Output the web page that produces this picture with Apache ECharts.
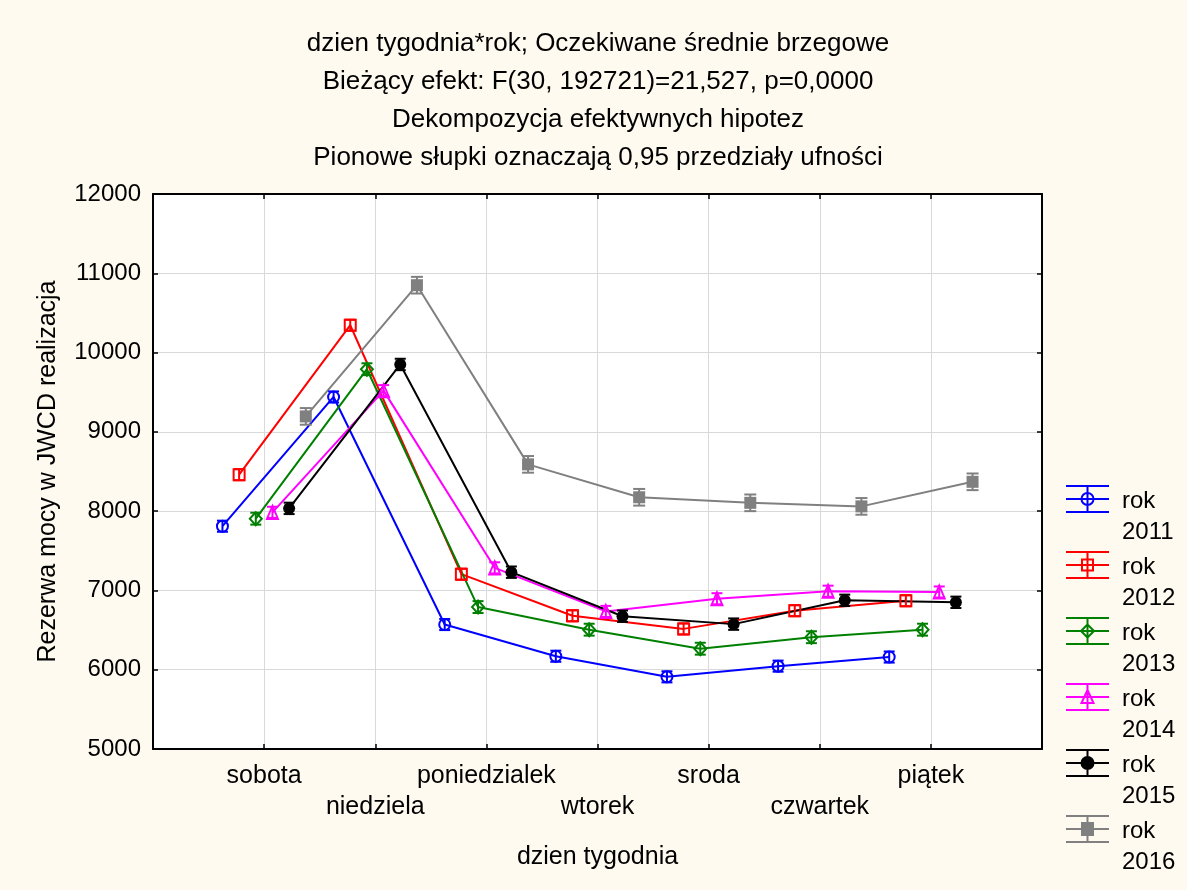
<!DOCTYPE html>
<html>
<head>
<meta charset="utf-8">
<script src="https://cdn.jsdelivr.net/npm/echarts@6/dist/echarts.min.js"></script>
<style>
html,body{margin:0;padding:0;background:#fefaf0;}
#chart{width:1187px;height:890px;}
</style>
</head>
<body>
<div id="chart"></div>
<script>
// ---- data ----
const categories = ['sobota', 'niedziela', 'poniedzialek', 'wtorek', 'sroda', 'czwartek', 'piątek'];
const years = ['rok 2011', 'rok 2012', 'rok 2013', 'rok 2014', 'rok 2015', 'rok 2016'];
const means2011 = [7810, 9440, 6570, 6170, 5910, 6045, 6160];
const means2012 = [8460, 10345, 7205, 6680, 6515, 6745, 6870];
const means2013 = [7905, 9790, 6790, 6505, 6265, 6410, 6505];
const means2014 = [7985, 9520, 7285, 6735, 6895, 6990, 6980];
const means2015 = [8035, 9850, 7230, 6675, 6575, 6875, 6850];
const means2016 = [9195, 10850, 8590, 8175, 8105, 8060, 8370];
const ciHalf = [70, 70, 75, 70, 72, 105]; // half-width of 0.95 CI per year
const yTicks = [5000, 6000, 7000, 8000, 9000, 10000, 11000, 12000];
const titleLines = [
  'dzien tygodnia*rok; Oczekiwane średnie brzegowe',
  'Bieżący efekt: F(30, 192721)=21,527, p=0,0000',
  'Dekompozycja efektywnych hipotez',
  'Pionowe słupki oznaczają 0,95 przedziały ufności'
];

// ---- styles ----
const allMeans = [means2011, means2012, means2013, means2014, means2015, means2016];
const colors = ['#0000ff', '#ff0000', '#008000', '#ff00ff', '#000000', '#808080'];
const symbols = ['circle', 'rect', 'diamond', 'triangle', 'circle', 'rect'];
const symbolSizes = [11, 11, [12, 13], [11, 13], 12, 12];
const filled = [false, false, false, false, true, true];
const capWidth = [11, 11, 11, 11, 11, 12];
const FONT = "'Liberation Sans', Arial, sans-serif";

const iconBase = 'M0 0L43 0M0 13L43 13M0 26L43 26M21.5 0L21.5 26M21.5 61L21.5 61';
const iconMarkers = [
  'M27.5 13A6 6 0 1 1 15.5 13A6 6 0 1 1 27.5 13Z',
  'M16 7.5L27 7.5L27 18.5L16 18.5Z',
  'M21.5 6.5L28 13L21.5 19.5L15 13Z',
  'M21.5 6L27.5 19L15.5 19Z',
  'M27.5 13A6 6 0 1 1 15.5 13A6 6 0 1 1 27.5 13Z',
  'M16 7L27 7L27 19L16 19Z'
];

const series = [];
allMeans.forEach((vals, i) => {
  const off = (i - 2.5) * 0.15;
  const c = colors[i];
  series.push({
    name: years[i],
    type: 'line',
    data: vals.map((v, k) => [k + 1 + off, v]),
    symbol: symbols[i],
    symbolSize: symbolSizes[i],
    itemStyle: {
      color: filled[i] ? c : 'rgba(0,0,0,0)',
      borderColor: c,
      borderWidth: filled[i] ? 0 : 2
    },
    lineStyle: { color: c, width: 2 },
    z: 3,
    silent: true,
    animation: false
  });
  series.push({
    name: years[i],
    type: 'custom',
    data: vals.map((v, k) => [k + 1 + off, v - ciHalf[i], v + ciHalf[i]]),
    encode: { x: 0, y: [1, 2] },
    z: 4,
    silent: true,
    animation: false,
    renderItem: function (params, api) {
      const x = api.value(0);
      const pLo = api.coord([x, api.value(1)]);
      const pHi = api.coord([x, api.value(2)]);
      const w = capWidth[i] / 2;
      const st = { stroke: c, lineWidth: 2 };
      return {
        type: 'group',
        children: [
          { type: 'line', shape: { x1: pLo[0], y1: pLo[1], x2: pHi[0], y2: pHi[1] }, style: st },
          { type: 'line', shape: { x1: pLo[0] - w, y1: pLo[1], x2: pLo[0] + w, y2: pLo[1] }, style: st },
          { type: 'line', shape: { x1: pHi[0] - w, y1: pHi[1], x2: pHi[0] + w, y2: pHi[1] }, style: st }
        ]
      };
    }
  });
});

const chart = echarts.init(document.getElementById('chart'), null, { renderer: 'canvas' });
chart.setOption({
  animation: false,
  backgroundColor: '#fefaf0',
  textStyle: { fontFamily: FONT },
  title: {
    text: titleLines.join('\n'),
    left: 598,
    top: 25,
    padding: 0,
    textAlign: 'center',
    textStyle: { fontFamily: FONT, fontSize: 26, fontWeight: 'normal', color: '#000', lineHeight: 38 }
  },
  legend: {
    orient: 'vertical',
    left: 1065,
    top: 485,
    padding: 0,
    itemWidth: 43,
    itemHeight: 61,
    itemGap: 3,
    selectedMode: false,
    formatter: n => n.replace(' ', '\n'),
    textStyle: { fontFamily: FONT, fontSize: 24, lineHeight: 31, color: '#000', padding: [0, 0, 0, 8] },
    data: years.map((n, i) => ({
      name: n,
      icon: 'path://' + iconBase + iconMarkers[i],
      itemStyle: {
        color: filled[i] ? colors[i] : 'rgba(0,0,0,0)',
        borderColor: colors[i],
        borderWidth: 2
      }
    }))
  },
  grid: {
    left: 153, right: 145, top: 194, bottom: 141,
    show: true, backgroundColor: '#ffffff', borderWidth: 0,
    containLabel: false, outerBoundsMode: 'none'
  },
  xAxis: [{
    type: 'value',
    min: 0, max: 8, interval: 1,
    position: 'bottom',
    name: 'dzien tygodnia',
    nameLocation: 'middle',
    nameGap: 96,
    nameTextStyle: { fontFamily: FONT, fontSize: 25, color: '#000' },
    axisLine: { show: true, onZero: false, lineStyle: { color: '#000', width: 2 } },
    axisTick: { show: true, inside: true, length: 5, lineStyle: { color: '#000', width: 1.5 } },
    splitLine: { show: true, lineStyle: { color: '#d9d9d9', width: 1 } },
    axisLabel: {
      margin: 12,
      fontFamily: FONT, fontSize: 25, lineHeight: 31, color: '#000',
      formatter: function (v) {
        const k = Math.round(v);
        if (k < 1 || k > categories.length) return '';
        return (k % 2 === 0 ? '\n' : '') + categories[k - 1];
      }
    }
  }, {
    type: 'value',
    min: 0, max: 8, interval: 1,
    position: 'top',
    axisLine: { show: true, onZero: false, lineStyle: { color: '#000', width: 2 } },
    axisTick: { show: true, inside: true, length: 5, lineStyle: { color: '#000', width: 1.5 } },
    splitLine: { show: false },
    axisLabel: { show: false }
  }],
  yAxis: [{
    type: 'value',
    min: yTicks[0], max: yTicks[yTicks.length - 1], interval: 1000,
    position: 'left',
    name: 'Rezerwa mocy w JWCD realizacja',
    nameLocation: 'middle',
    nameGap: 92,
    nameRotate: 90,
    nameTextStyle: { fontFamily: FONT, fontSize: 25, color: '#000' },
    axisLine: { show: true, onZero: false, lineStyle: { color: '#000', width: 2 } },
    axisTick: { show: true, inside: true, length: 5, lineStyle: { color: '#000', width: 1.5 } },
    splitLine: { show: true, lineStyle: { color: '#d9d9d9', width: 1 } },
    axisLabel: {
      margin: 12, fontFamily: FONT, fontSize: 24, color: '#000',
      formatter: v => String(v)
    }
  }, {
    type: 'value',
    min: yTicks[0], max: yTicks[yTicks.length - 1], interval: 1000,
    position: 'right',
    axisLine: { show: true, onZero: false, lineStyle: { color: '#000', width: 2 } },
    axisTick: { show: true, inside: true, length: 5, lineStyle: { color: '#000', width: 1.5 } },
    splitLine: { show: false },
    axisLabel: { show: false }
  }],
  series: series
});
</script>
</body>
</html>
